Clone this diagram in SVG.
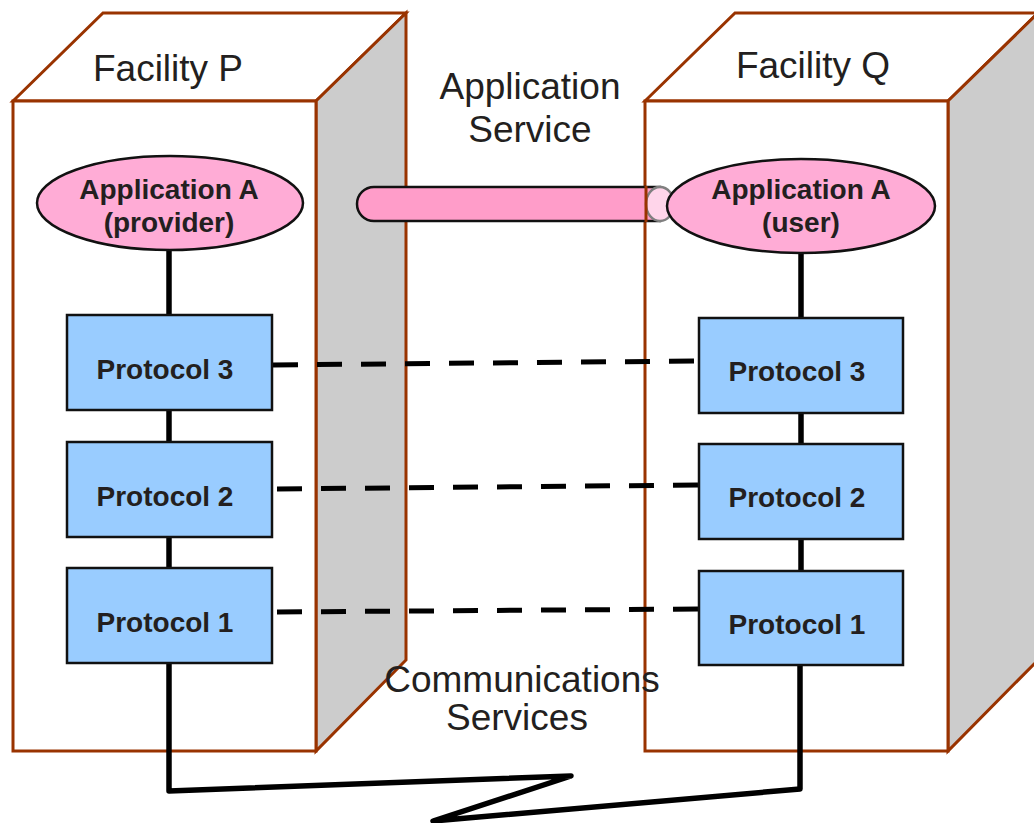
<svg xmlns="http://www.w3.org/2000/svg" width="1034" height="823" viewBox="0 0 1034 823">
<style>
.fr{fill:#fff;stroke:#993300;stroke-width:3;stroke-linejoin:miter}
.sd{fill:#cccccc;stroke:#993300;stroke-width:3}
.lbl{font-family:"Liberation Sans",Arial,sans-serif;font-size:37px;fill:#231f20;text-anchor:middle}
.b{font-family:"Liberation Sans",Arial,sans-serif;font-size:28px;font-weight:bold;fill:#231f20;text-anchor:middle}
.proto{fill:#99ccff;stroke:#111;stroke-width:2.5}
.app{fill:#ffacd6;stroke:#111;stroke-width:2.5}
.ln{fill:none;stroke:#000;stroke-width:5.5;stroke-linejoin:round}
.dash{fill:none;stroke:#000;stroke-width:5;stroke-dasharray:25 19}
</style>
<g id="facilityP">
<polygon class="fr" points="13,101 103,13 406,13 316,101"/>
<polygon class="sd" points="316,101 406,13 406,660 316,751"/>
<rect class="fr" x="13" y="101" width="303" height="650"/>
<text class="lbl" x="168" y="81">Facility P</text>
</g>
<g id="facilityQ">
<polygon class="fr" points="645,101 735,13 1038,13 948,101"/>
<polygon class="sd" points="948,101 1038,13 1038,660 948,751"/>
<rect class="fr" x="645" y="101" width="303" height="650"/>
<text class="lbl" x="813" y="78">Facility Q</text>
</g>
<g id="appService">
<path d="M374,187 H660 V221 H374 A17,17 0 0 1 374,187 Z" fill="#ff9dc9" stroke="#111" stroke-width="2.5"/>
<ellipse cx="660" cy="204" rx="14" ry="17" fill="#ffd5ea" stroke="#808080" stroke-width="2.5"/>
<line x1="646" y1="186" x2="646" y2="222" stroke="#993300" stroke-width="3"/>
<text class="lbl" x="530" y="99">Application</text>
<text class="lbl" x="530" y="142">Service</text>
</g>
<g id="connectors">
<line class="dash" x1="273" y1="365" x2="697" y2="361"/>
<line class="dash" x1="277" y1="489" x2="698" y2="485"/>
<line class="dash" x1="277" y1="612" x2="698" y2="609"/>
<path class="ln" d="M169,250 V663"/>
<path class="ln" d="M801,253 V665"/>
<path class="ln" d="M169,663 L169,791 L571,776 L433,821 L800,789 L800,665"/>
</g>
<g id="appP">
<ellipse class="app" cx="170" cy="203" rx="133" ry="47"/>
<text class="b" x="169" y="199">Application A</text>
<text class="b" x="169" y="232">(provider)</text>
</g>
<g id="appQ">
<ellipse class="app" cx="801" cy="206" rx="134" ry="47"/>
<text class="b" x="801" y="199">Application A</text>
<text class="b" x="801" y="232">(user)</text>
</g>
<g id="p3P"><rect class="proto" x="67" y="315" width="205" height="95"/><text class="b" x="165" y="379">Protocol 3</text></g>
<g id="p2P"><rect class="proto" x="67" y="442" width="205" height="95"/><text class="b" x="165" y="506">Protocol 2</text></g>
<g id="p1P"><rect class="proto" x="67" y="568" width="205" height="95"/><text class="b" x="165" y="632">Protocol 1</text></g>
<g id="p3Q"><rect class="proto" x="699" y="318" width="204" height="95"/><text class="b" x="797" y="381">Protocol 3</text></g>
<g id="p2Q"><rect class="proto" x="699" y="444" width="204" height="95"/><text class="b" x="797" y="507">Protocol 2</text></g>
<g id="p1Q"><rect class="proto" x="699" y="571" width="204" height="94"/><text class="b" x="797" y="634">Protocol 1</text></g>
<g id="commServices">
<text class="lbl" x="522" y="692">Communications</text>
<text class="lbl" x="517" y="730">Services</text>
</g>
</svg>
